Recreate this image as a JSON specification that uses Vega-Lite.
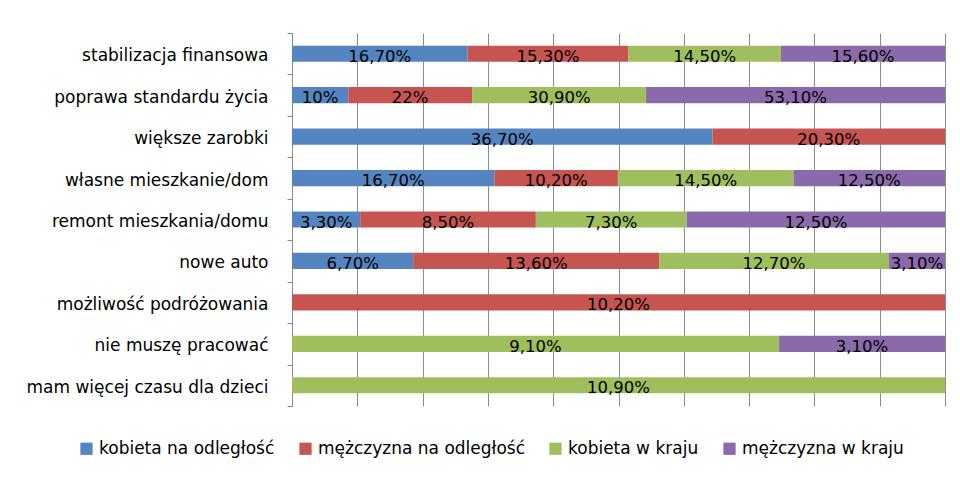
{
  "$schema": "https://vega.github.io/schema/vega-lite/v6.json",
  "width": 653,
  "height": 373,
  "autosize": {"type": "none"},
  "padding": {"left": 292, "top": 33, "right": 15, "bottom": 72},
  "background": "white",
  "config": {
    "view": {"stroke": null},
    "font": "DejaVu Sans"
  },
  "data": {
    "values": [
      {"cat": "stabilizacja finansowa", "series": "kobieta na odległość", "k": 1, "v": 16.7, "label": "16,70%"},
      {"cat": "stabilizacja finansowa", "series": "mężczyzna na odległość", "k": 2, "v": 15.3, "label": "15,30%"},
      {"cat": "stabilizacja finansowa", "series": "kobieta w kraju", "k": 3, "v": 14.5, "label": "14,50%"},
      {"cat": "stabilizacja finansowa", "series": "mężczyzna w kraju", "k": 4, "v": 15.6, "label": "15,60%"},
      {"cat": "poprawa standardu życia", "series": "kobieta na odległość", "k": 1, "v": 10, "label": "10%"},
      {"cat": "poprawa standardu życia", "series": "mężczyzna na odległość", "k": 2, "v": 22, "label": "22%"},
      {"cat": "poprawa standardu życia", "series": "kobieta w kraju", "k": 3, "v": 30.9, "label": "30,90%"},
      {"cat": "poprawa standardu życia", "series": "mężczyzna w kraju", "k": 4, "v": 53.1, "label": "53,10%"},
      {"cat": "większe zarobki", "series": "kobieta na odległość", "k": 1, "v": 36.7, "label": "36,70%"},
      {"cat": "większe zarobki", "series": "mężczyzna na odległość", "k": 2, "v": 20.3, "label": "20,30%"},
      {"cat": "własne mieszkanie/dom", "series": "kobieta na odległość", "k": 1, "v": 16.7, "label": "16,70%"},
      {"cat": "własne mieszkanie/dom", "series": "mężczyzna na odległość", "k": 2, "v": 10.2, "label": "10,20%"},
      {"cat": "własne mieszkanie/dom", "series": "kobieta w kraju", "k": 3, "v": 14.5, "label": "14,50%"},
      {"cat": "własne mieszkanie/dom", "series": "mężczyzna w kraju", "k": 4, "v": 12.5, "label": "12,50%"},
      {"cat": "remont mieszkania/domu", "series": "kobieta na odległość", "k": 1, "v": 3.3, "label": "3,30%"},
      {"cat": "remont mieszkania/domu", "series": "mężczyzna na odległość", "k": 2, "v": 8.5, "label": "8,50%"},
      {"cat": "remont mieszkania/domu", "series": "kobieta w kraju", "k": 3, "v": 7.3, "label": "7,30%"},
      {"cat": "remont mieszkania/domu", "series": "mężczyzna w kraju", "k": 4, "v": 12.5, "label": "12,50%"},
      {"cat": "nowe auto", "series": "kobieta na odległość", "k": 1, "v": 6.7, "label": "6,70%"},
      {"cat": "nowe auto", "series": "mężczyzna na odległość", "k": 2, "v": 13.6, "label": "13,60%"},
      {"cat": "nowe auto", "series": "kobieta w kraju", "k": 3, "v": 12.7, "label": "12,70%"},
      {"cat": "nowe auto", "series": "mężczyzna w kraju", "k": 4, "v": 3.1, "label": "3,10%"},
      {"cat": "możliwość podróżowania", "series": "mężczyzna na odległość", "k": 2, "v": 10.2, "label": "10,20%"},
      {"cat": "nie muszę pracować", "series": "kobieta w kraju", "k": 3, "v": 9.1, "label": "9,10%"},
      {"cat": "nie muszę pracować", "series": "mężczyzna w kraju", "k": 4, "v": 3.1, "label": "3,10%"},
      {"cat": "mam więcej czasu dla dzieci", "series": "kobieta w kraju", "k": 3, "v": 10.9, "label": "10,90%"}
    ]
  },
  "encoding": {
    "y": {
      "field": "cat",
      "type": "nominal",
      "sort": null,
      "scale": {"paddingInner": 0, "paddingOuter": 0},
      "axis": {
        "title": null,
        "tickBand": "extent",
        "domainColor": "#888888",
        "tickColor": "#888888",
        "tickSize": 5,
        "labelFontSize": 17,
        "labelColor": "#000000",
        "labelPadding": 19,
        "labelOffset": 2,
        "labelLimit": 0,
        "labelFont": "DejaVu Sans",
        "grid": false
      }
    },
    "x": {
      "field": "v",
      "type": "quantitative",
      "stack": "normalize",
      "scale": {"domain": [0, 1], "nice": false},
      "axis": {
        "title": null,
        "labels": false,
        "ticks": false,
        "domain": false,
        "grid": true,
        "gridColor": "#8c8c8c",
        "gridWidth": 1,
        "values": [0, 0.1, 0.2, 0.3, 0.4, 0.5, 0.6, 0.7, 0.8, 0.9, 1]
      }
    },
    "order": {"field": "k", "type": "quantitative"}
  },
  "layer": [
    {
      "mark": {"type": "bar", "height": {"band": 0.39}},
      "encoding": {
        "color": {
          "field": "series",
          "type": "nominal",
          "scale": {
            "domain": ["kobieta na odległość", "mężczyzna na odległość", "kobieta w kraju", "mężczyzna w kraju"],
            "range": ["#5585c0", "#c65552", "#9fbf5e", "#8a6aaa"]
          },
          "legend": {
            "title": null,
            "orient": "none",
            "direction": "horizontal",
            "legendX": -214,
            "legendY": 407,
            "symbolType": "square",
            "symbolSize": 150,
            "symbolStrokeWidth": 0,
            "labelFontSize": 17,
            "labelColor": "#000000",
            "labelFont": "DejaVu Sans",
            "labelLimit": 0,
            "columnPadding": 22,
            "labelOffset": 4
          }
        }
      }
    },
    {
      "mark": {"type": "text", "fontSize": 16.5, "color": "#000000", "baseline": "middle", "dy": 3},
      "encoding": {
        "x": {"field": "v", "type": "quantitative", "stack": "normalize", "bandPosition": 0.5},
        "text": {"field": "label", "type": "nominal"}
      }
    }
  ]
}
